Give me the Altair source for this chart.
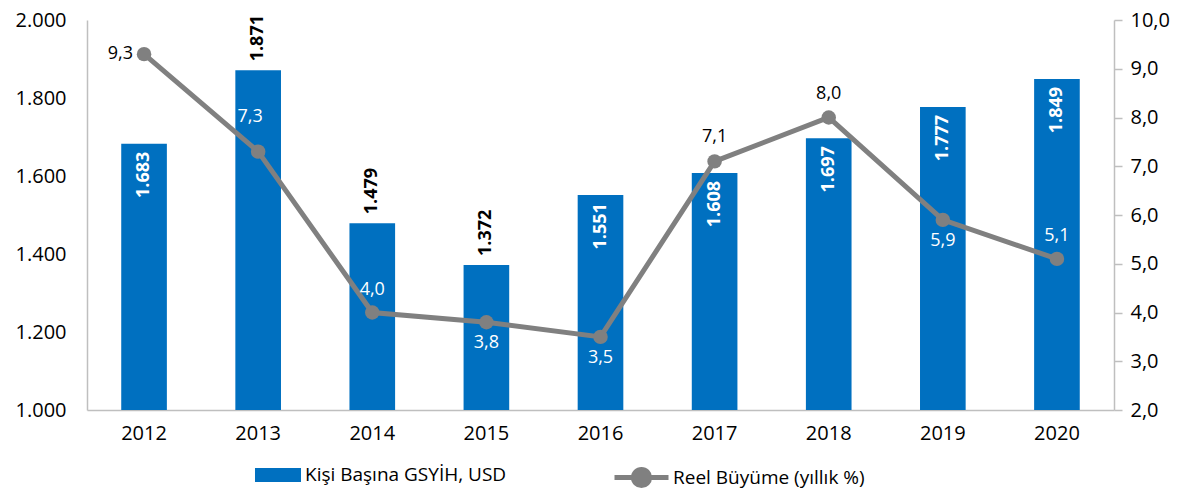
import altair as alt
import pandas as pd

years = ["2012", "2013", "2014", "2015", "2016", "2017", "2018", "2019", "2020"]
gdp = [1683, 1871, 1479, 1372, 1551, 1608, 1697, 1777, 1849]
growth = [9.3, 7.3, 4.0, 3.8, 3.5, 7.1, 8.0, 5.9, 5.1]

bar_name = "Kişi Başına GSYİH, USD"
line_name = "Reel Büyüme (yıllık %)"

BLUE = "#0070C0"
GREY = "#808080"
AXIS_GREY = "#BFBFBF"
FONT = "Open Sans"

df = pd.DataFrame({
    "year": years,
    "gdp": gdp,
    "growth": growth,
    "gdp_label": [f"{v:,}".replace(",", ".") for v in gdp],
    "growth_label": [f"{v:.1f}".replace(".", ",") for v in growth],
    "bar_series": bar_name,
    "line_series": line_name,
})

x_enc = alt.X(
    "year:N",
    sort=years,
    scale=alt.Scale(paddingInner=0.6, paddingOuter=0.3),
    axis=alt.Axis(title=None, labelAngle=0, ticks=False, domainColor=AXIS_GREY,
                  domainWidth=1.5, labelPadding=13, labelFontSize=20, labelColor="black",
                  labelFont=FONT),
)

y_left = alt.Y(
    "gdp:Q",
    scale=alt.Scale(domain=[1000, 2000], nice=False, zero=False),
    axis=alt.Axis(title=None, values=[1000, 1200, 1400, 1600, 1800, 2000], ticks=False,
                  domainColor=AXIS_GREY, domainWidth=1.5, labelPadding=21, grid=False,
                  labelFontSize=20, labelColor="black", labelFont=FONT,
                  labelExpr="replace(format(datum.value, ','), ',', '.')"),
)

y_right = alt.Y(
    "growth:Q",
    scale=alt.Scale(domain=[2, 10], nice=False, zero=False),
    axis=alt.Axis(title=None, orient="right", values=[2, 3, 4, 5, 6, 7, 8, 9, 10],
                  ticks=True, tickSize=8, tickColor=AXIS_GREY, tickWidth=1.5,
                  domainColor=AXIS_GREY, domainWidth=1.5, labelPadding=8, grid=False,
                  labelFontSize=20, labelColor="black", labelFont=FONT,
                  labelExpr="replace(format(datum.value, '.1f'), '.', ',')"),
)

base = alt.Chart(df)

above_years = ["2013", "2014", "2015"]

LEG_Y = 428

bars = base.mark_bar().encode(
    x=x_enc,
    y=y_left,
    y2=alt.datum(1000),
    fill=alt.Fill("bar_series:N", scale=alt.Scale(range=[BLUE]),
                  legend=alt.Legend(title=None, orient="none", legendX=164, legendY=LEG_Y,
                                    symbolType="M-0.852,-0.26H0.852V0.26H-0.852Z",
                                    symbolSize=2916,
                                    symbolStrokeWidth=0, labelOffset=0, labelFontSize=19,
                                    labelFont=FONT, labelColor="black", labelLimit=400,
                                    padding=0)),
)

bar_text_in = base.transform_filter(
    ~alt.FieldOneOfPredicate(field="year", oneOf=above_years)
).mark_text(angle=270, align="right", baseline="middle", dx=-8, color="white",
            fontWeight="bold", fontSize=18, font=FONT).encode(
    x=x_enc, y=y_left, text="gdp_label:N")

bar_text_out = base.transform_filter(
    alt.FieldOneOfPredicate(field="year", oneOf=above_years)
).mark_text(angle=270, align="left", baseline="middle", dx=9, color="black",
            fontWeight="bold", fontSize=18, font=FONT).encode(
    x=x_enc, y=y_left, text="gdp_label:N")

left = alt.layer(bars, bar_text_in, bar_text_out)

line = base.mark_line(strokeWidth=5).encode(
    x=x_enc,
    y=y_right,
    stroke=alt.Stroke("line_series:N", scale=alt.Scale(range=[GREY]),
                      legend=alt.Legend(title=None, orient="none", legendX=525, legendY=LEG_Y,
                                        symbolType="M-1,0H1M0.3,0A0.3,0.3 0 1,1 -0.3,0A0.3,0.3 0 1,1 0.3,0Z",
                                        symbolSize=2916, symbolStrokeWidth=5,
                                        symbolFillColor=GREY, labelOffset=2, labelFontSize=19,
                                        labelFont=FONT, labelColor="black", labelLimit=400,
                                        padding=0)),
)

points = base.mark_circle(size=210, color=GREY, opacity=1).encode(x=x_enc, y=y_right)


def growth_text(sel, color, **kw):
    return base.transform_filter(
        alt.FieldOneOfPredicate(field="year", oneOf=sel)
    ).mark_text(color=color, fontSize=18, font=FONT, **kw).encode(
        x=x_enc, y=y_right, text="growth_label:N")


lab_left_dark = growth_text(["2012"], "black", align="right", baseline="middle", dx=-11)
lab_up_dark = growth_text(["2017", "2018"], "black", align="center", baseline="middle", dy=-24)
lab_up_light = growth_text(["2014", "2020"], "white", align="center", baseline="middle", dy=-23)
lab_up_far = growth_text(["2013"], "white", align="center", baseline="middle", dx=-8, dy=-35)
lab_down_light = growth_text(["2015", "2016", "2019"], "white", align="center",
                             baseline="middle", dy=21)

right = alt.layer(line, points, lab_left_dark, lab_up_dark, lab_up_light,
                  lab_up_far, lab_down_light)

chart = alt.layer(left, right).resolve_scale(
    y="independent", fill="independent", stroke="independent"
).properties(
    width=1027, height=390,
    autosize=alt.AutoSizeParams(type="none"),
    padding={"left": 79, "top": 12, "right": 66, "bottom": 79},
).configure_view(stroke=None)

chart.save("out.html", embed_options={"renderer": "svg", "actions": False})
